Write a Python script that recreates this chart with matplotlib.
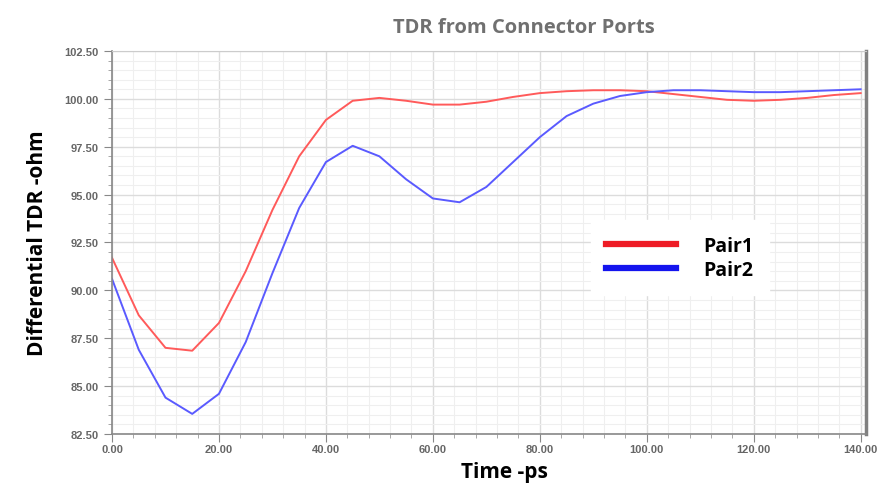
import numpy as np
import matplotlib.pyplot as plt
from matplotlib.ticker import MultipleLocator, FormatStrFormatter
from matplotlib.lines import Line2D

# time axis, one point every 5 ps
time_ps = [0, 5, 10, 15, 20, 25, 30, 35, 40, 45, 50, 55, 60, 65, 70,
           75, 80, 85, 90, 95, 100, 105, 110, 115, 120, 125, 130, 135, 140]

pair1 = [91.7, 88.7, 87.0, 86.85, 88.3, 91.0, 94.2, 97.0, 98.9, 99.9,
         100.05, 99.9, 99.7, 99.7, 99.85, 100.1, 100.3, 100.4, 100.45, 100.45,
         100.4, 100.25, 100.1, 99.95, 99.9, 99.95, 100.05, 100.2, 100.3]

pair2 = [90.6, 86.9, 84.4, 83.55, 84.6, 87.3, 90.9, 94.3, 96.7, 97.55,
         97.0, 95.8, 94.8, 94.6, 95.4, 96.7, 98.0, 99.1, 99.75, 100.15,
         100.35, 100.45, 100.45, 100.4, 100.35, 100.35, 100.4, 100.45, 100.5]

series_names = ["Pair1", "Pair2"]

plt.rcParams["font.family"] = ["Liberation Sans", "DejaVu Sans"]

fig = plt.figure(figsize=(8.94, 4.89), dpi=100)
ax = fig.add_axes([0.1253, 0.1104, 0.8434, 0.7833])

ax.plot(time_ps, pair1, color="#ff5a5a", lw=1.4)
ax.plot(time_ps, pair2, color="#5a5aff", lw=1.4)

ax.set_xlim(0, 141)
ax.set_ylim(82.5, 102.5)

# ticks and grid
ax.xaxis.set_major_locator(MultipleLocator(20))
ax.xaxis.set_minor_locator(MultipleLocator(4))
ax.yaxis.set_major_locator(MultipleLocator(2.5))
ax.yaxis.set_minor_locator(MultipleLocator(0.5))
ax.xaxis.set_major_formatter(FormatStrFormatter("%.2f"))
ax.yaxis.set_major_formatter(FormatStrFormatter("%.2f"))
ax.grid(which="major", color="#dcdcdc", lw=1.0)
ax.grid(which="minor", color="#efefef", lw=0.8)
ax.set_axisbelow(True)

ax.tick_params(which="major", length=6, color="#888888", labelsize=8,
               labelcolor="#666666", direction="out")
ax.tick_params(which="minor", length=3, color="#999999", direction="out")
ax.tick_params(axis="x", which="major", pad=1)
for lab in ax.get_xticklabels() + ax.get_yticklabels():
    lab.set_fontweight("bold")

for side in ["left", "bottom"]:
    ax.spines[side].set_color("#888888")
    ax.spines[side].set_linewidth(1.2)
ax.spines["top"].set_color("#cccccc")
ax.spines["right"].set_color("#808080")
ax.spines["right"].set_linewidth(2.5)

ax.set_title("TDR from Connector Ports", fontsize=14.5, fontweight="bold",
             color="#707070", pad=14, x=0.546,
             fontfamily=["Open Sans", "DejaVu Sans"])
ax.set_xlabel("Time -ps", fontsize=15, fontweight="bold", labelpad=5,
              x=0.52, fontfamily=["Open Sans", "DejaVu Sans"])
ax.set_ylabel("Differential TDR -ohm", fontsize=15, fontweight="bold",
              labelpad=12, fontfamily=["Open Sans", "DejaVu Sans"])

handles = [Line2D([], [], color="#ee1c25", lw=4.5),
           Line2D([], [], color="#1414ee", lw=4.5)]
leg = ax.legend(handles, series_names, loc="center left",
                bbox_to_anchor=(0.622, 0.46), frameon=True, fancybox=False,
                handlelength=3.6, handletextpad=1.4, labelspacing=0.2,
                borderpad=0.8,
                prop={"family": ["Open Sans", "DejaVu Sans"],
                      "weight": "bold", "size": 14})
leg.get_frame().set_edgecolor("white")
leg.get_frame().set_facecolor("white")
leg.get_frame().set_alpha(1.0)

fig.savefig("out.png", dpi=100)
